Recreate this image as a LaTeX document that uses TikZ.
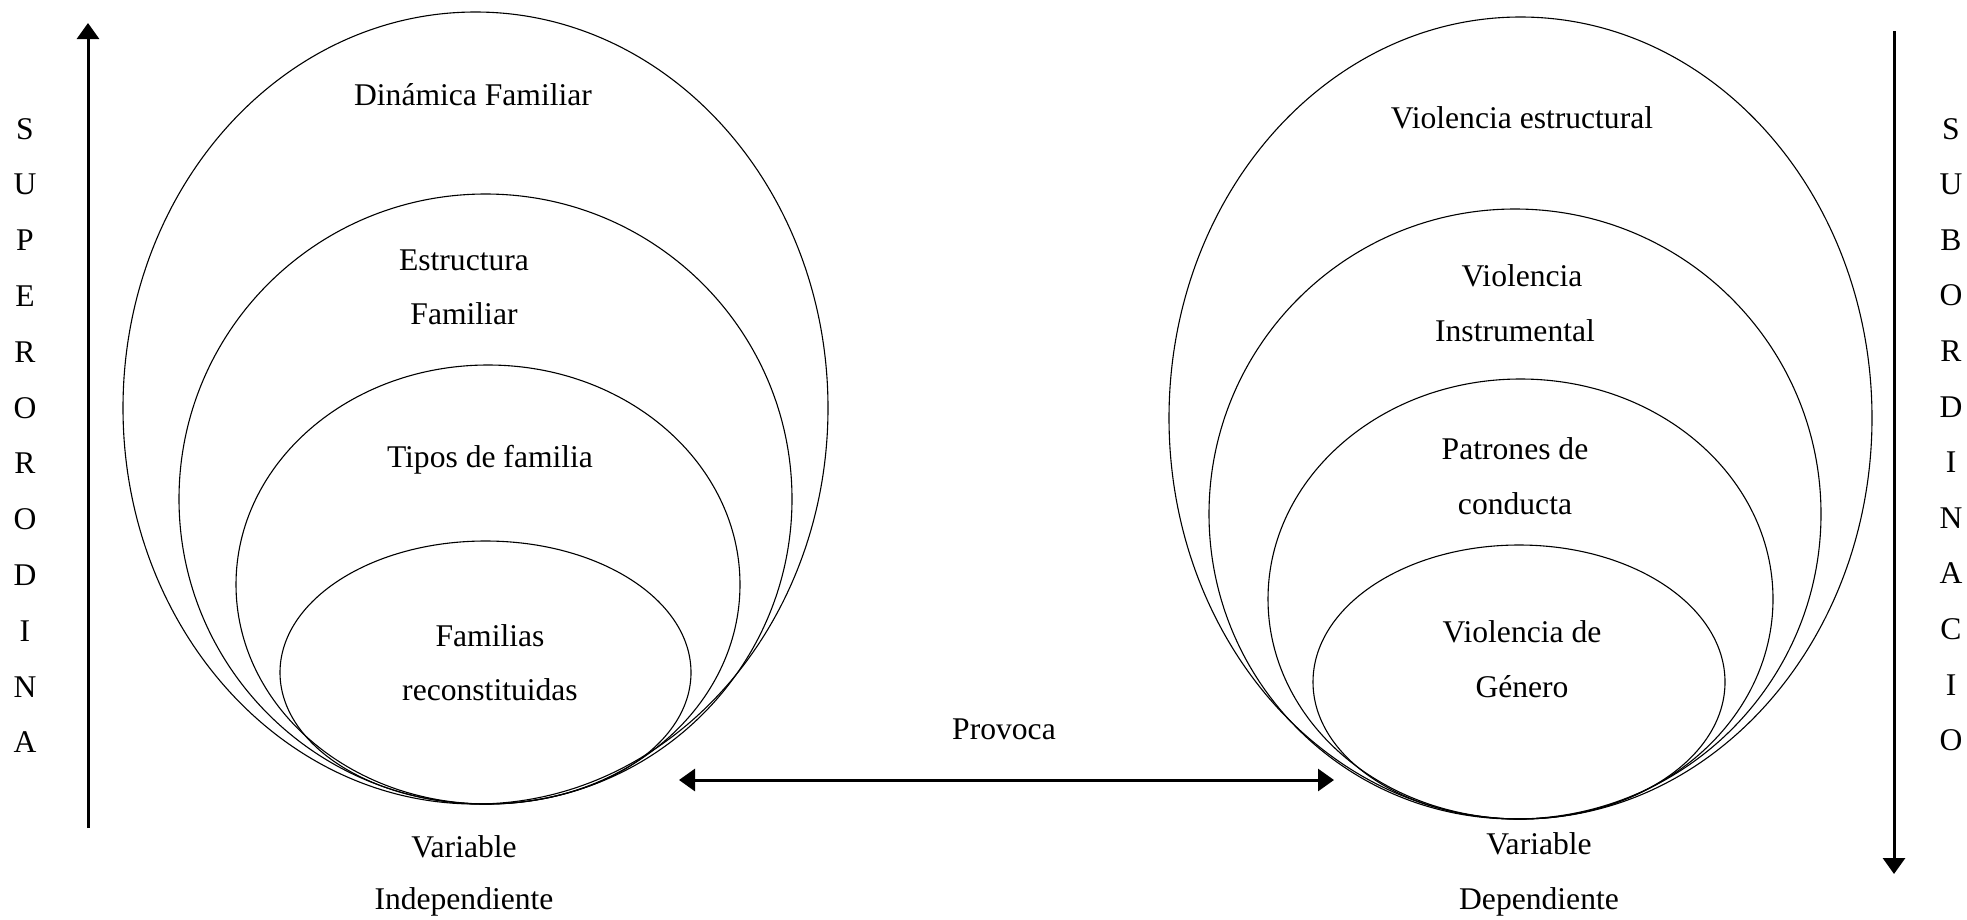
\documentclass[tikz,border=0pt]{standalone}
\usepackage{fontspec}
\setmainfont{Liberation Serif}
\usetikzlibrary{arrows.meta}

\begin{document}
\begin{tikzpicture}[x=1pt,y=-1pt,
  ring/.style={draw,line width=1.1pt},
  lbl/.style={font=\fontsize{31.6}{38}\selectfont,inner sep=0pt,anchor=base},
  bigarrow/.style={line width=3pt,-{Triangle[length=16pt,width=22pt]}},
  twoarrow/.style={line width=3pt,{Triangle[length=16pt,width=22pt]}-{Triangle[length=16pt,width=22pt]}}]
  \useasboundingbox (0,0) rectangle (1967,919);
  % left side: independent variable
  \draw[ring] (475.5,408) ellipse [x radius=352.5pt, y radius=396pt];
  \draw[ring] (485.5,499) ellipse [x radius=306.5pt, y radius=305pt];
  \draw[ring] (488,584.5) ellipse [x radius=252pt, y radius=219.5pt];
  \draw[ring] (485.5,672.5) ellipse [x radius=205.5pt, y radius=131.5pt];
  \path (473,105) node[lbl] (dinam) {Dinámica Familiar}
  (464,270) node[lbl] (estr1) {Estructura} (464,324) node[lbl] (estr2) {Familiar}
  (490,467) node[lbl] (tipos) {Tipos de familia}
  (490,646) node[lbl] (fam1) {Familias} (490,700) node[lbl] (fam2) {reconstituidas}
  (464,857) node[lbl] (indep1) {Variable} (464,909) node[lbl] (indep2) {Independiente};
  % right side: dependent variable
  \draw[ring] (1520.5,418) ellipse [x radius=351.5pt, y radius=401pt];
  \draw[ring] (1515,514) ellipse [x radius=306pt, y radius=305pt];
  \draw[ring] (1520.5,599) ellipse [x radius=252.5pt, y radius=220pt];
  \draw[ring] (1519,682) ellipse [x radius=206pt, y radius=137pt];
  \path (1522,128) node[lbl] (vest) {Violencia estructural}
  (1522,286) node[lbl] (vins1) {Violencia} (1515,341) node[lbl] (vins2) {Instrumental}
  (1515,459) node[lbl] (pat1) {Patrones de} (1515,514) node[lbl] (pat2) {conducta}
  (1522,642) node[lbl] (vgen1) {Violencia de} (1522,697) node[lbl] (vgen2) {Género}
  (1539,854) node[lbl] (dep1) {Variable} (1539,909) node[lbl] (dep2) {Dependiente};
  % side labels and arrows
  \foreach \l [count=\i from 0] in {S,U,P,E,R,O,R,O,D,I,N,A}
    \node[lbl] (sup\i) at (25,139+55.8*\i) {\l};
  \foreach \l [count=\i from 0] in {S,U,B,O,R,D,I,N,A,C,I,O}
    \node[lbl] (sub\i) at (1951,139+55.6*\i) {\l};
  \coordinate (supb) at (88,828); \coordinate (supt) at (88,23);
  \coordinate (subt) at (1894,31); \coordinate (subb) at (1894,874);
  \draw[bigarrow] (supb) -- (supt);
  \draw[bigarrow] (subt) -- (subb);
  \coordinate (provl) at (679,780); \coordinate (provr) at (1334,780);
  \draw[twoarrow] (provl) -- (provr);
  \node[lbl] (provoca) at (1004,739) {Provoca};
\end{tikzpicture}
\end{document}
